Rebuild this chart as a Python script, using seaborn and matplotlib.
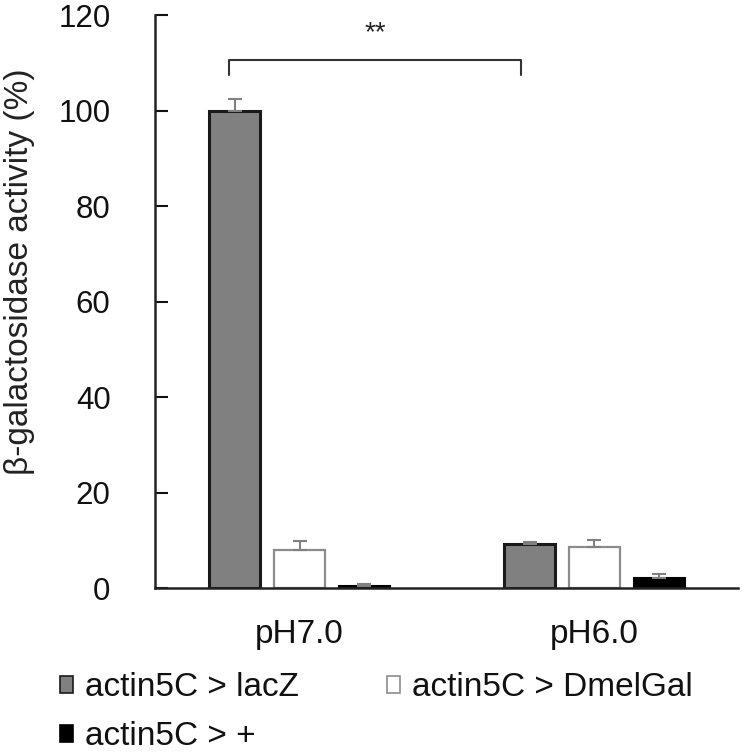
import numpy as np
import pandas as pd
import matplotlib
matplotlib.use("Agg")
import matplotlib.pyplot as plt
import seaborn as sns
from matplotlib.patches import Patch

# Daten
conditions = ["pH7.0", "pH6.0"]
genotypes = ["actin5C > lacZ", "actin5C > DmelGal", "actin5C > +"]
lacz_vals = [100.0, 9.3]
dmelgal_vals = [8.0, 8.7]
plus_vals = [0.5, 2.1]
lacz_err = [2.5, 0.3]
dmelgal_err = [1.9, 1.4]
plus_err = [0.3, 0.8]

fills = ["#808080", "#ffffff", "#000000"]
edges = ["#1a1a1a", "#8c8c8c", "#000000"]
edge_widths = [2.2, 1.6, 1.5]

df = pd.DataFrame({
    "condition": conditions * 3,
    "genotype": np.repeat(genotypes, len(conditions)),
    "value": lacz_vals + dmelgal_vals + plus_vals,
})
errors = [lacz_err, dmelgal_err, plus_err]

sns.set_theme(style="white")
plt.rcParams["font.family"] = ["Liberation Sans", "DejaVu Sans"]

fig = plt.figure(figsize=(7.45, 7.56), dpi=100)
ax = fig.add_axes([0.208, 0.222, 0.782, 0.758])

sns.barplot(data=df, x="condition", y="value", hue="genotype",
            order=conditions, hue_order=genotypes, palette=fills,
            width=0.66, gap=0.21, errorbar=None, legend=False, ax=ax)

for cont, ec, lw, err in zip(ax.containers, edges, edge_widths, errors):
    xs, ys = [], []
    for bar in cont:
        bar.set_edgecolor(ec)
        bar.set_linewidth(lw)
        xs.append(bar.get_x() + bar.get_width() / 2)
        ys.append(bar.get_height())
    ax.errorbar(xs, ys, yerr=[np.zeros(len(err)), err], fmt="none",
                ecolor="#808080", elinewidth=1.5, capsize=5, capthick=1.5,
                zorder=1)

# Signifikanz-Klammer
x1 = ax.containers[0][0].get_x() + 0.068
x2 = ax.containers[0][1].get_x() + 0.058
ax.plot([x1, x1, x2, x2], [107.4, 110.6, 110.6, 107.4], color="#333333",
        lw=1.5, clip_on=False)
ax.text((x1 + x2) / 2, 116.3, "**", ha="center", va="center",
        fontsize=20, color="#222222")

ax.set_ylim(0, 120)
ax.set_xlim(-0.49, 1.485)
ax.set_yticks(range(0, 121, 20))
ax.set_xlabel("")
ax.set_ylabel("β-galactosidase activity (%)", fontsize=24, color="#222222")
ax.yaxis.set_label_coords(-0.206, 0.552)
sns.despine(ax=ax)
for side in ["left", "bottom"]:
    ax.spines[side].set_color("#222222")
    ax.spines[side].set_linewidth(1.8)
ax.tick_params(axis="y", direction="in", length=9, width=1.5, pad=32,
               labelsize=22.5, colors="#111111", left=True)
ax.tick_params(axis="x", length=0, pad=22, labelsize=24, colors="#111111")

handles = [Patch(facecolor=f, edgecolor=e, linewidth=1.2) for f, e in zip(fills, edges)]
order = [0, 2, 1]
fig.legend([handles[i] for i in order], [genotypes[i] for i in order],
           loc="upper left", bbox_to_anchor=(0.08, 0.111), ncol=2,
           frameon=False, fontsize=24, handlelength=0.4, handleheight=0.4,
           handletextpad=0.35, columnspacing=2.65, labelspacing=0.55,
           borderpad=0, borderaxespad=0, labelcolor="#111111")

fig.savefig("out.png", dpi=100, facecolor="white")
